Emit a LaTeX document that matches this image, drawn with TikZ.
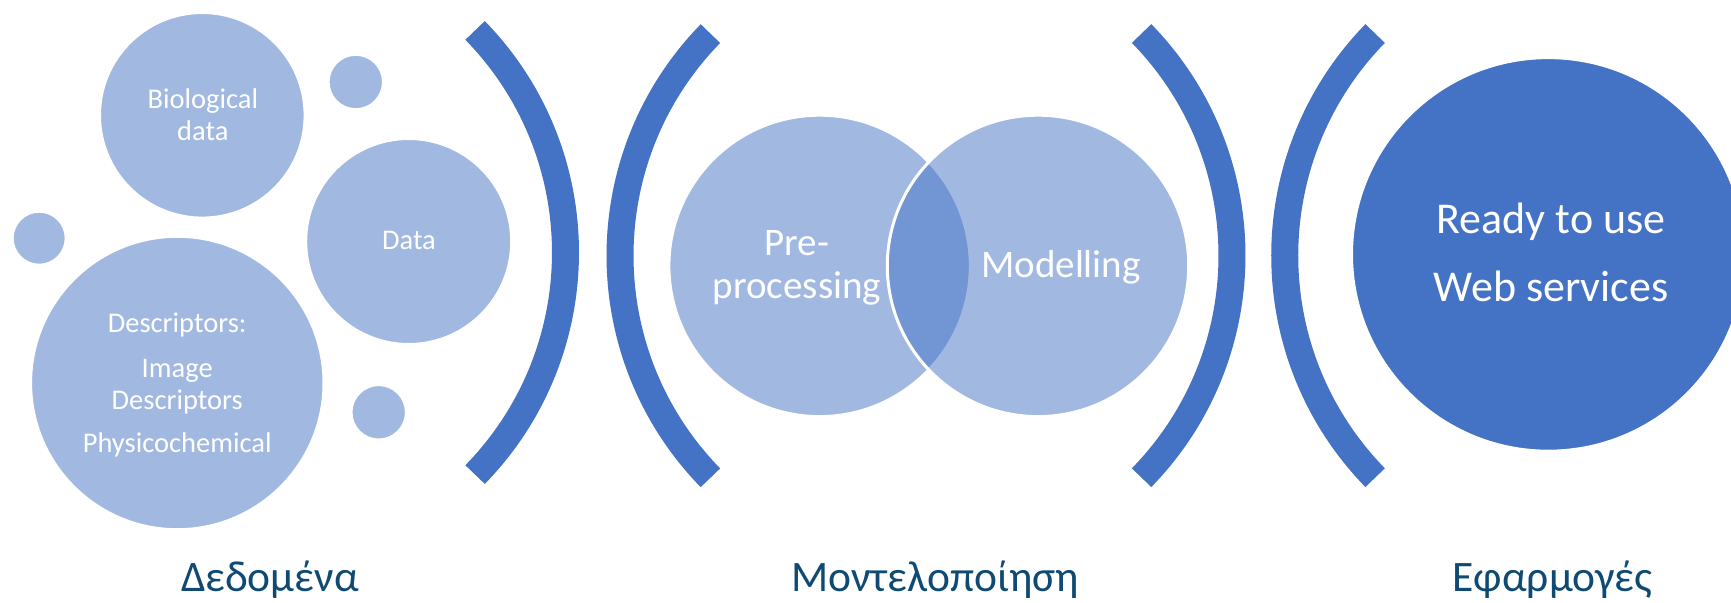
\documentclass[tikz,border=0pt]{standalone}
\usepackage{fontspec}
\setmainfont{Carlito}
\definecolor{accent}{HTML}{4472C4}
\definecolor{labelblue}{HTML}{0E4A73}
\begin{document}
\begin{tikzpicture}[x=1pt,y=-1pt,
  bubble/.style={circle, fill=accent, fill opacity=0.5, draw=white, line width=3pt, inner sep=0pt, minimum size=#1},
  solidbubble/.style={circle, fill=accent, draw=white, line width=3pt, inner sep=0pt, minimum size=#1},
  bracketarc/.style={draw=accent, line width=27pt, line cap=butt},
  smalltext/.style={text=white, anchor=base, inner sep=0pt, font=\fontsize{28.5}{34}\selectfont},
  midtext/.style={text=white, anchor=base, inner sep=0pt, font=\fontsize{39}{46}\selectfont},
  bigtext/.style={text=white, anchor=base, inner sep=0pt, font=\fontsize{44}{52}\selectfont},
  steplabel/.style={text=labelblue, anchor=base, inner sep=0pt, font=\fontsize{43.5}{50}\selectfont}]
\useasboundingbox (0,0) rectangle (1731,602);
\clip (0,0) rectangle (1731,602);

% data cluster
\node[bubble=205.6pt] (bio)  at (202.3,115.3) {};
\node[bubble=55.4pt]  (dotA) at (355.8,82) {};
\node[bubble=206pt]   (data) at (408.7,241.5) {};
\node[bubble=54pt]    (dotB) at (39.2,238.2) {};
\node[bubble=293.4pt] (desc) at (177.3,383) {};
\node[bubble=55.4pt]  (dotC) at (378.7,412.3) {};

% modelling pair
\node[bubble=301.4pt] (prep) at (819.6,265.9) {};
\node[bubble=301.4pt] (model) at (1038,265.9) {};

% applications
\node[solidbubble=393.6pt] (app) at (1548.3,254.4) {};

% bracket arcs
\draw[bracketarc] (247.5,252.5) ++(-44.3:318) arc[start angle=-44.3, end angle=44.3, radius=318];
\draw[bracketarc] (938,255.7) ++(135.7:318) arc[start angle=135.7, end angle=224.3, radius=318];
\draw[bracketarc] (914,255.6) ++(-44.3:318) arc[start angle=-44.3, end angle=44.3, radius=318];
\draw[bracketarc] (1602.7,255.6) ++(135.7:318) arc[start angle=135.7, end angle=224.3, radius=318];

% texts inside circles
\node[smalltext] (bioA) at (202.8,108.3) {Biological};
\node[smalltext] (bioB) at (202.8,140.2) {data};
\node[smalltext] (dataT) at (409,249.6) {Data};
\node[smalltext] (descA) at (177.2,332.2) {Descriptors:};
\node[smalltext] (descB) at (177.2,377) {Image};
\node[smalltext] (descC) at (177.2,409) {Descriptors};
\node[smalltext] (descD) at (177.2,452.4) {Physicochemical};

\node[midtext] (prepA) at (797,255.4) {Pre-};
\node[midtext] (prepB) at (797,298.8) {processing};
\node[midtext] (modelT) at (1061,277) {Modelling};

\node[bigtext] (appA) at (1551,233) {Ready to use};
\node[bigtext] (appB) at (1551,301.4) {Web services};

% stage labels
\node[steplabel] (s1) at (270,591) {Δεδομένα};
\node[steplabel] (s2) at (935,591) {Μοντελοποίηση};
\node[steplabel] (s3) at (1552.6,591) {Εφαρμογές};
\end{tikzpicture}
\end{document}
